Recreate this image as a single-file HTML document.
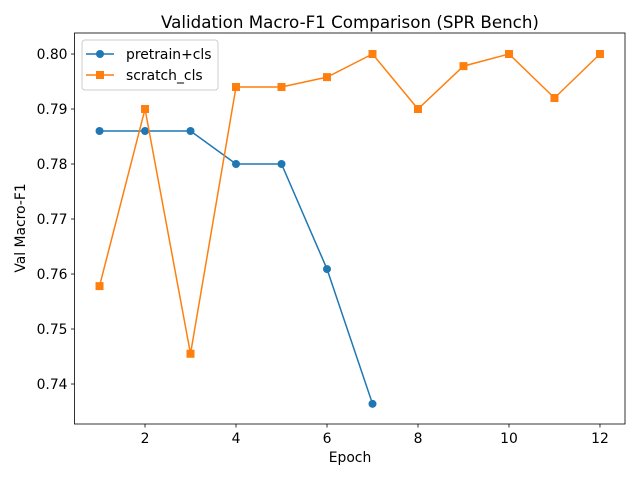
<!DOCTYPE html>
<html><head><meta charset="utf-8"><style>
body{margin:0;background:#fff;font-family:"Liberation Sans","DejaVu Sans",sans-serif}
svg text{font-family:"DejaVu Sans","Liberation Sans",sans-serif}
</style></head><body>
<svg id="chart" width="640" height="480" xmlns="http://www.w3.org/2000/svg"></svg>
<script>
const epochsPre=[1,2,3,4,5,6,7];
const valuesPre=[0.786,0.786,0.786,0.780,0.780,0.7609,0.7364];
const epochsScr=[1,2,3,4,5,6,7,8,9,10,11,12];
const valuesScr=[0.7578,0.790,0.7455,0.794,0.794,0.7958,0.800,0.790,0.7978,0.800,0.792,0.800];
const xTicks=[2,4,6,8,10,12];
const yTicks=[0.74,0.75,0.76,0.77,0.78,0.79,0.80];
const L=74.5,R=625,T=33,B=424;
const xMin=0.45,xMax=12.55,yMin=0.73273,yMax=0.80382;
const sx=v=>L+(v-xMin)/(xMax-xMin)*(R-L);
const sy=v=>B-(v-yMin)/(yMax-yMin)*(B-T);
const svg=document.getElementById('chart');
const NS='http://www.w3.org/2000/svg';
function mk(tag,attrs,parent){const e=document.createElementNS(NS,tag);for(const k in attrs)e.setAttribute(k,attrs[k]);(parent||svg).appendChild(e);return e;}
let t;
t=mk('text',{x:350,y:28,'text-anchor':'middle','font-size':16.7,fill:'#000'});t.textContent='Validation Macro-F1 Comparison (SPR Bench)';


xTicks.forEach(v=>{const x=sx(v);mk('line',{x1:x,x2:x,y1:B,y2:B+3.5,stroke:'#000','stroke-width':0.8});
const tx=mk('text',{x:x,y:B+19,'text-anchor':'middle','font-size':13.9});tx.textContent=v;

});
yTicks.forEach(v=>{const y=sy(v);mk('line',{x1:L-3.5,x2:L,y1:y,y2:y,stroke:'#000','stroke-width':0.8});
const tx=mk('text',{x:L-7,y:y+5,'text-anchor':'end','font-size':13.9});tx.textContent=v.toFixed(2);

});
t=mk('text',{x:350,y:462,'text-anchor':'middle','font-size':13.9});t.textContent='Epoch';


t=mk('text',{x:25,y:228,'text-anchor':'middle','font-size':13.9,transform:'rotate(-90 25 228)'});t.textContent='Val Macro-F1';


function series(xs,ys,color,marker,name){
 const g=mk('g',{});
 
 
 mk('polyline',{points:xs.map((x,i)=>sx(x)+','+sy(ys[i])).join(' '),fill:'none',stroke:color,'stroke-width':1.5},g);
 xs.forEach((x,i)=>{let m;
  if(marker==='o')m=mk('circle',{cx:sx(x),cy:sy(ys[i]),r:4,fill:color},g);
  else m=mk('rect',{x:sx(x)-4,y:sy(ys[i])-4,width:8,height:8,fill:color},g);
  
  });
}
series(epochsPre,valuesPre,'#1f77b4','o','pretrain-series');
series(epochsScr,valuesScr,'#ff7f0e','s','scratch-series');
const frame=mk('rect',{x:L,y:T,width:R-L,height:B-T,fill:'none',stroke:'#000','stroke-width':0.8});


const lg=mk('g',{});


mk('rect',{x:82,y:40,width:136,height:50,rx:3,fill:'#fff','fill-opacity':0.8,stroke:'#ccc'},lg);
mk('line',{x1:86,x2:114,y1:54,y2:54,stroke:'#1f77b4','stroke-width':1.5},lg);
mk('circle',{cx:100,cy:54,r:4,fill:'#1f77b4'},lg);
t=mk('text',{x:126,y:59,'font-size':13.9},lg);t.textContent='pretrain+cls';


mk('line',{x1:86,x2:114,y1:75,y2:75,stroke:'#ff7f0e','stroke-width':1.5},lg);
mk('rect',{x:96,y:71,width:8,height:8,fill:'#ff7f0e'},lg);
t=mk('text',{x:126,y:80,'font-size':13.9},lg);t.textContent='scratch_cls';


</script>
</body></html>
